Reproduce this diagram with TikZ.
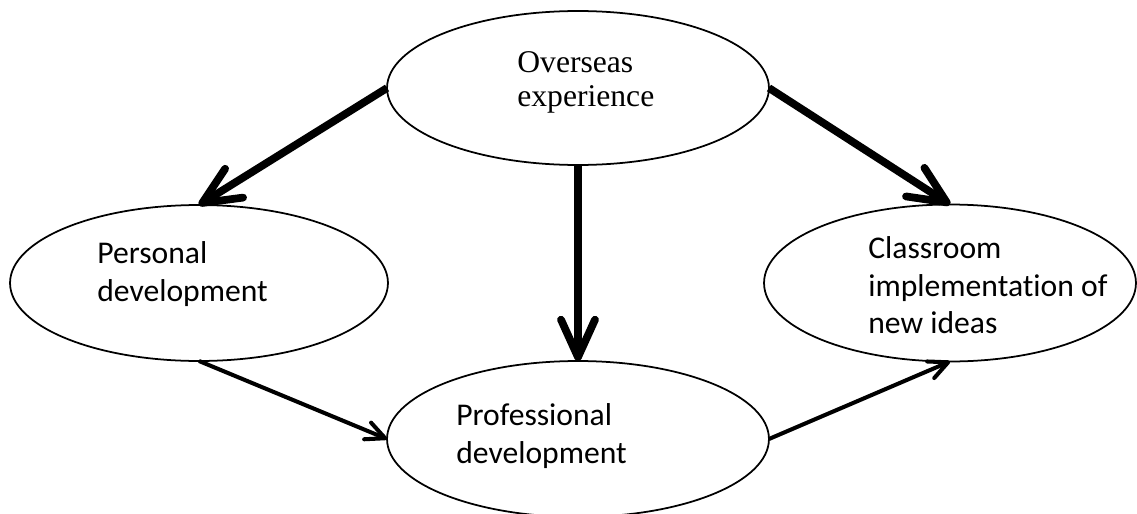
\documentclass[tikz,border=0pt]{standalone}
\usepackage{fontspec}
\setmainfont{Liberation Serif}
\newfontfamily\bodyfont{Carlito}[Ligatures=NoCommon]
\usepackage{tikz}
\usetikzlibrary{arrows.meta, positioning, shapes.geometric}

\tikzset{
  bubble/.style={ellipse, draw, line width=1pt, inner sep=0pt, outer sep=0pt},
  bubbletext/.style={anchor=north west, inner sep=0pt, align=left, font=\bodyfont\fontsize{18}{21.5}\selectfont},
  bigarrow/.style={line width=4.4pt, -{Straight Barb[length=7.5mm, width=6.8mm, round]}},
  smallarrow/.style={line width=2.3pt, -{Straight Barb[length=3.8mm, width=3.6mm, round]}}
}

\begin{document}
\begin{tikzpicture}[x=0.02cm, y=-0.02cm]
  \useasboundingbox (0,0) rectangle (1137,514);

  % Ellipses
  \node[bubble, minimum width=7.64cm, minimum height=3.08cm] (over)  at (578,88)  {};
  \node[bubble, minimum width=7.56cm, minimum height=3.12cm] (pers)  at (199,283) {};
  \node[bubble, minimum width=7.44cm, minimum height=3.14cm] (class) at (950,283) {};
  \node[bubble, minimum width=7.64cm, minimum height=3.12cm] (prof)  at (578,439) {};

  % Texts
  \node[bubbletext, font=\rmfamily\fontsize{18}{19.4}\selectfont] (overt) at (517,51) {Overseas\\experience};
  \node[bubbletext] (perst)  at (97,241)  {Personal\\development};
  \node[bubbletext] (classt) at (868,236) {Classroom\\implementation of\\new ideas};
  \node[bubbletext] (proft)  at (456,403) {Professional\\development};

  % Arrows
  \draw[bigarrow] (over.west) -- (pers.north);
  \draw[bigarrow] (over.south) -- (prof.north);
  \draw[bigarrow] (over.east) -- (class.north);
  \draw[smallarrow] (pers.south) -- (prof.west);
  \draw[smallarrow] (prof.east) -- (class.south);
\end{tikzpicture}
\end{document}
